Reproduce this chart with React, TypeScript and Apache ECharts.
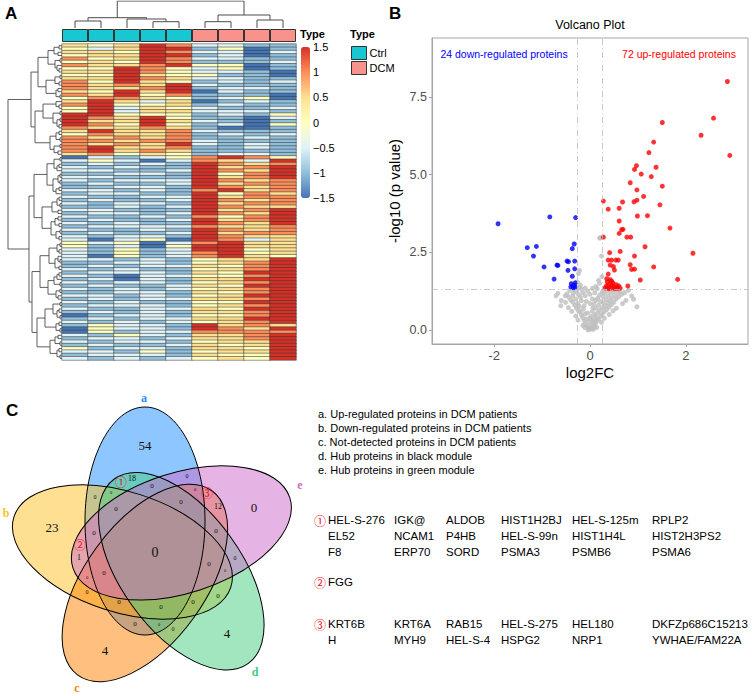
import React, { useEffect, useRef } from "react";
import * as echarts from "echarts";

// ---------- Panel A: heatmap data ----------
const heatCols = ["Ctrl1", "Ctrl2", "Ctrl3", "Ctrl4", "Ctrl5", "DCM1", "DCM2", "DCM3", "DCM4"];
const colTypes = ["Ctrl", "Ctrl", "Ctrl", "Ctrl", "Ctrl", "DCM", "DCM", "DCM", "DCM"];
const levelValues = [-1.5, -1, -0.5, 0, 0.5, 1, 1.5];
// one string per protein row, one digit per column (index into levelValues)
const heatRows = [
  "434652211", "324661301", "443652202", "344661201", "534652211", "343651112", "544563301", "336532301",
  "446532210", "336433110", "446542211", "536431212", "545462111", "544561221", "436460211", "546351110",
  "355431230", "464240121", "563341211", "362432112", "362442221", "663331213", "654631102", "644642101",
  "653631203", "544541001", "464452111", "354451212", "545451121", "554552111", "545462121", "564451121",
  "564541111", "453431221",
  "021235653", "232025426", "121216545", "212116456", "221126546", "112216356", "221116456", "212226545",
  "121126455", "112216545", "221215645", "122116354", "211226455", "121126545", "212216455", "112126544",
  "221116456", "122126546", "211215356", "121126456", "212116546", "122225445", "211216545", "121126455",
  "212216544", "202306524", "323025644", "312036644", "213126634", "213125634",
  "203125643", "221213446", "112213456", "121224356", "212113456", "122214366", "210223356", "120214466",
  "212213456", "121124366", "212123456", "112214356", "221213466", "121224456", "212113366", "122213456",
  "211224366", "121214456", "012213356", "121224466", "212123456", "132216454", "032216546", "031225555",
  "213214456", "122124456", "212213446", "121124346", "312214436", "221313446", "122214336", "212123436",
];
const colTree = "(((x,x)7,(x,(x,x)6.3)9)10.3,((x,x)6.3,(x,x)8)13)27";
const rowTreeT1 = "((((x,x)3,(x,x)4)8,((x,x)2,(x,(x,x)3)5)7)14,(((x,x)2,(x,x)3)7,((x,x)4,(x,x)2)6)16)24";
const rowTreeT2 = "(((x,(x,x)3)6,((x,x)2,((x,x)2,(x,x)3)5)9)19,(((x,x)3,(x,x)2)6,((x,x)2,(x,x)4)8)12)27";
const rowTreeB1 = "((((x,x)2,((x,x)3,x)5)8,(((x,x)2,(x,x)2)4,((x,x)3,x)6)9)15,((((x,x)3,(x,x)2)5,(x,x)4)10,(((x,x)4,(x,x)3)7,((x,x)2,(x,x)3)6)11)20)28";
const rowTreeB2a = "((((x,x)2,(x,x)3)5,((x,(x,x)2)4,(x,x)3)7)13,((((x,x)3,x)5,(x,x)2)8,((x,x)2,(x,x)4)6)14)22";
const rowTreeB2b = "((((x,x)2,((x,x)3,(x,x)2)5)9,((x,x)3,(x,x)2)6)17,(((x,x)4,(x,x)2)7,((x,x)3,(x,x)2)5)12)25";
const rowTree = "((" + rowTreeT1 + "," + rowTreeT2 + ")31,(" + rowTreeB1 + ",(" + rowTreeB2a + "," + rowTreeB2b + ")30)33)54";
const colorbarColors = ["#4575B4", "#91BFDB", "#E0F3F8", "#FFFFBF", "#FEE090", "#FC8D59", "#D73027"];

// ---------- Panel B: volcano data (log2FC, -log10 p) ----------
const downPts: number[][] = [
  [-1.92, 3.42], [-0.84, 3.64], [-0.3, 3.62], [-1.31, 2.65], [-1.12, 2.69], [-1.18, 2.38], [-0.96, 2.03], [-0.69, 2.09],
  [-0.67, 2.08], [-0.75, 1.64], [-0.48, 2.22], [-0.45, 2.2], [-0.32, 2.22], [-0.33, 2.77], [-0.37, 2.62], [-0.46, 1.92],
  [-0.32, 1.97], [-0.37, 1.73], [-0.39, 1.49], [-0.31, 1.52], [-0.4, 1.39], [-0.31, 1.38], [-0.35, 1.36], [-0.33, 1.44],
];
const upPts: number[][] = [
  [2.87, 8.0], [2.58, 6.82], [2.32, 6.27], [2.92, 5.62], [1.51, 6.68], [1.33, 6.05], [1.23, 5.71], [0.97, 5.29],
  [0.93, 5.17], [1.07, 5.02], [1.38, 5.24], [1.28, 4.94], [0.84, 4.74], [1.51, 4.63], [0.98, 4.51], [1.12, 4.3],
  [0.92, 4.13], [0.98, 4.18], [0.68, 4.12], [0.28, 4.15], [0.38, 3.89], [0.61, 3.92], [1.46, 4.03], [0.99, 3.67],
  [1.2, 3.68], [0.61, 3.51], [0.69, 3.24], [1.67, 3.28],
  [0.28, 2.99], [0.61, 3.11], [0.66, 3.23], [0.77, 2.99], [0.85, 2.99], [1.15, 2.68], [2.15, 2.47], [1.83, 1.63],
  [1.33, 2.03], [1.05, 1.61], [0.93, 2.38], [0.84, 2.1], [0.93, 1.96], [0.87, 1.95], [0.79, 1.42], [0.41, 2.49],
  [0.63, 2.53], [0.38, 2.25], [0.45, 2.25], [0.54, 2.25], [0.59, 2.25], [0.42, 2.09], [0.49, 2.04], [0.51, 1.93],
  [0.38, 1.8],
  [0.31, 1.35], [0.34, 1.42], [0.36, 1.55], [0.38, 1.38], [0.4, 1.48], [0.42, 1.62], [0.44, 1.35], [0.46, 1.44],
  [0.48, 1.52], [0.5, 1.38], [0.52, 1.33], [0.55, 1.46], [0.57, 1.37], [0.6, 1.42], [0.63, 1.35], [0.35, 1.65],
  [0.45, 1.58], [0.58, 1.34], [0.39, 1.33],
];
const nsPts: number[][] = [
  [0, 0.02], [0.03, 0.05], [-0.03, 0.06], [0.06, 0.1], [-0.06, 0.12], [0.02, 0.15], [0.09, 0.18], [-0.09, 0.2],
  [0.12, 0.22], [-0.02, 0.25], [0.05, 0.28], [-0.12, 0.3], [0.15, 0.3], [0.08, 0.33], [-0.07, 0.35], [0.18, 0.36],
  [-0.15, 0.4], [0.12, 0.42], [0.02, 0.44], [0.22, 0.45], [-0.18, 0.48], [0.1, 0.5], [-0.1, 0.52], [0.26, 0.52],
  [0.16, 0.55], [-0.2, 0.58], [0.3, 0.6], [0.05, 0.6], [-0.24, 0.62], [0.2, 0.64], [0.35, 0.66], [-0.14, 0.67],
  [0.12, 0.7], [-0.28, 0.7], [0.26, 0.72], [0.4, 0.74], [-0.22, 0.76], [0.32, 0.78], [0.18, 0.8], [-0.32, 0.8],
  [0.45, 0.82], [0.08, 0.84], [-0.26, 0.85], [0.38, 0.86], [0.28, 0.88], [-0.36, 0.9], [0.5, 0.9], [0.22, 0.92],
  [-0.18, 0.94], [0.42, 0.95], [-0.4, 0.96], [0.34, 0.98], [0.55, 1.0], [-0.3, 1.0], [0.16, 1.02], [0.46, 1.04],
  [-0.44, 1.05], [0.28, 1.06], [0.6, 1.08], [-0.36, 1.1], [0.38, 1.1], [0.52, 1.12], [-0.24, 1.14], [0.66, 1.15],
  [-0.48, 1.16], [0.3, 1.18], [0.44, 1.2], [-0.34, 1.2], [0.58, 1.22], [0.72, 1.2], [-0.28, 1.25], [0.36, 1.26],
  [0.5, 1.27], [-0.42, 1.28], [0.8, 1.28], [0.62, 1.25], [0.25, 1.22], [-0.52, 1.1], [-0.6, 0.95], [-0.67, 1.18],
  [-0.71, 1.1], [-0.61, 0.78], [-0.51, 0.89], [0.91, 0.99], [0.98, 0.75], [0.87, 1.1], [0.75, 0.95], [0.68, 0.85],
  [0.55, 0.7], [-0.45, 0.72], [-0.38, 0.6], [0.48, 0.62], [0.4, 0.5], [-0.3, 0.45], [0.3, 0.38], [-0.25, 0.32],
  [0.24, 0.25], [-0.15, 0.15], [0.14, 0.08], [-0.04, 0.0], [0.07, 0.02], [0.1, 0.12], [-0.11, 0.08],
  [-0.22, 1.92], [-0.24, 1.82], [-0.26, 1.55], [-0.2, 1.45], [-0.23, 1.38], [0.22, 2.97], [0.2, 2.96], [0.24, 2.38],
  [0.18, 1.6], [0.2, 1.5], [0.25, 1.72], [0.12, 1.4], [-0.1, 1.35], [0.05, 1.34], [0.15, 1.33], [-0.18, 1.32],
  [-0.2, 1.05], [-0.1, 1.1], [0, 1.15], [0.1, 1.2], [-0.05, 1.25], [0.05, 1.0], [-0.15, 1.2], [0.2, 1.12],
  [0.12, 0.95], [-0.08, 0.92], [0, 0.85], [-0.12, 0.78], [0.06, 0.72], [-0.05, 0.55], [0, 0.38],
];
const fcCut = 0.263;
const pCut = 1.301;
const volcanoXTicks = [-2, 0, 2];
const volcanoYTicks = [0, 2.5, 5, 7.5];
const downLabel = "24 down-regulated proteins";
const upLabel = "72 up-regulated proteins";

// ---------- Panel C: Venn ----------
const vennSets = ["a", "b", "c", "d", "e"];
const vennValues = [54, 23, 4, 4, 0, 0, 18, 0, 0, 0, 0, 0, 0, 0, 12, 0, 0, 1, 0, 0, 0, 0, 0, 0, 0, 0, 0, 0, 0, 0, 0];
const vennLegend = [
  "a. Up-regulated proteins in DCM patients",
  "b. Down-regulated proteins in DCM patients",
  "c. Not-detected proteins in DCM patients",
  "d. Hub proteins in black module",
  "e. Hub proteins in green module",
];
const geneGroup1 = [
  ["HEL-S-276", "IGK@", "ALDOB", "HIST1H2BJ", "HEL-S-125m", "RPLP2"],
  ["EL52", "NCAM1", "P4HB", "HEL-S-99n", "HIST1H4L", "HIST2H3PS2"],
  ["F8", "ERP70", "SORD", "PSMA3", "PSMB6", "PSMA6"],
];
const geneGroup2 = [["FGG"]];
const geneGroup3 = [
  ["KRT6B", "KRT6A", "RAB15", "HEL-S-275", "HEL180", "DKFZp686C15213"],
  ["H", "MYH9", "HEL-S-4", "HSPG2", "NRP1", "YWHAE/FAM22A"],
];

// ---------- layout (positions / styles) ----------
const vennNumPos: number[][] = [
  [145, 445, 13], [52, 527, 13], [105, 650, 13], [227, 633, 13], [254, 507, 13], [155, 552, 14],
  [132, 478, 8], [187, 476, 6], [152, 486, 7], [95, 497, 6], [111, 492, 4.5], [116, 509, 7], [181, 502, 7],
  [195, 489, 4.5], [218, 506, 8], [94, 533, 7], [216, 531, 7], [79, 557, 8], [235, 558, 6], [209, 564, 7],
  [104, 573, 7], [87, 577, 4.5], [225, 570, 4.5], [87, 592, 6], [119, 602, 7], [161, 607, 7], [193, 602, 7],
  [218, 596, 7], [135, 624, 7], [159, 624, 4.5], [173, 629, 6],
];
const vennStep: Record<string, number> = { a: 0, e: 1, d: 2, c: 3, b: 4 };
const vennFill: Record<string, string> = {
  a: "rgba(30,144,255,0.5)", b: "rgba(255,193,37,0.5)", c: "rgba(255,127,0,0.5)",
  d: "rgba(67,205,128,0.5)", e: "rgba(205,105,201,0.5)",
};
const vennLabelColor: Record<string, string> = { a: "#1E90FF", b: "#FFC125", c: "#FF7F00", d: "#43CD80", e: "#CD69C9" };
const vennLabelPos: Record<string, number[]> = { a: [144, 398], b: [6, 513], c: [77, 688], d: [255, 672], e: [300, 485] };
const vennMarks: [string, number, number][] = [["\u2460", 121, 481], ["\u2461", 80, 544], ["\u2462", 207, 492]];

type TNode = { h: number; pos: number; l?: TNode; r?: TNode };
function parseTree(s: string): TNode {
  let i = 0;
  let leaf = 0;
  const node = (): TNode => {
    if (s[i] === "x") {
      i++;
      return { h: 0, pos: leaf++ + 0.5 };
    }
    i++;
    const l = node();
    i++;
    const r = node();
    i++;
    let j = i;
    while (j < s.length && /[0-9.]/.test(s[j])) j++;
    const h = parseFloat(s.slice(i, j));
    i = j;
    return { h, pos: (l.pos + r.pos) / 2, l, r };
  };
  return node();
}
function treeLines(t: TNode, horizontal: boolean, out: any[]) {
  if (!t.l || !t.r) return;
  const pts = [
    [t.l.pos, t.l.h], [t.l.pos, t.h], [t.r.pos, t.h], [t.r.pos, t.r.h],
  ].map((p) => (horizontal ? [p[1], p[0]] : p));
  out.push({ coords: pts });
  treeLines(t.l, horizontal, out);
  treeLines(t.r, horizontal, out);
}

const SANS = "Liberation Sans, Arial, sans-serif";
const SERIF = "Liberation Serif, Times New Roman, serif";
const CJK = "Noto Sans CJK SC, DejaVu Sans, sans-serif";

export default function App() {
  const ref = useRef<HTMLDivElement>(null);
  useEffect(() => {
    if (!ref.current) return;
    const chart = echarts.init(ref.current, undefined, { renderer: "svg" });

    const heatData: number[][] = [];
    heatRows.forEach((s, r) => s.split("").forEach((ch, c) => heatData.push([c, r, levelValues[Number(ch)]])));
    const rowNames = heatRows.map((_, i) => "P" + (i + 1));

    const colSegs: any[] = [];
    treeLines(parseTree(colTree), false, colSegs);
    const rowSegs: any[] = [];
    treeLines(parseTree(rowTree), true, rowSegs);

    const hidden = { show: false };
    const graphics: any[] = [];
    const txt = (text: string, x: number, y: number, o: any = {}) =>
      graphics.push({
        type: "text", x, y, silent: true, z: 10,
        style: { text, fontSize: 11, fontFamily: SANS, fill: "#000", align: "left", verticalAlign: "middle", ...o },
      });

    // panel letters
    txt("A", 5, 13, { fontSize: 17, fontWeight: "bold" });
    txt("B", 389, 13, { fontSize: 17, fontWeight: "bold" });
    txt("C", 6, 410, { fontSize: 17, fontWeight: "bold" });
    // heatmap legends
    txt("Type", 300, 34, { fontWeight: "bold", fontSize: 11 });
    txt("Type", 350, 34, { fontWeight: "bold", fontSize: 11 });
    // volcano
    txt("Volcano Plot", 590, 25, { fontSize: 12.5, align: "center" });
    txt(downLabel, 504, 54, { fontSize: 10.5, fill: "#0000FF", align: "center" });
    txt(upLabel, 679, 54, { fontSize: 10.5, fill: "#FF0000", align: "center" });

    // Venn ellipses
    const G = [155, 552];
    const off = [-10, -31];
    const ellipse = (name: string, fill: boolean) => {
      const phi = (vennStep[name] * 72 * Math.PI) / 180;
      const cx = G[0] + off[0] * Math.cos(phi) - off[1] * Math.sin(phi);
      const cy = G[1] + off[0] * Math.sin(phi) + off[1] * Math.cos(phi);
      return {
        type: "ellipse", x: cx, y: cy, rotation: -phi, silent: true, z: fill ? 1 : 2,
        shape: { cx: 0, cy: 0, rx: 60, ry: 114 },
        style: fill ? { fill: vennFill[name], stroke: "none" } : { fill: "none", stroke: "#000", lineWidth: 1 },
      };
    };
    vennSets.forEach((n) => graphics.push(ellipse(n, true)));
    vennSets.forEach((n) => graphics.push(ellipse(n, false)));
    vennSets.forEach((n) =>
      txt(n, vennLabelPos[n][0], vennLabelPos[n][1], {
        fontFamily: SERIF, fontWeight: "bold", fontSize: 12, fill: vennLabelColor[n], align: "center",
      })
    );
    vennValues.forEach((v, i) =>
      txt(String(v), vennNumPos[i][0], vennNumPos[i][1], {
        fontFamily: SERIF, fontSize: vennNumPos[i][2], fill: "#111", align: "center",
      })
    );
    vennMarks.forEach((m) => txt(m[0], m[1], m[2], { fontFamily: CJK, fontSize: 12, fill: "#E8161E", align: "center" }));

    // right side legend & gene lists
    vennLegend.forEach((t, i) => txt(t, 318, 414 + i * 13.9, { fontSize: 11 }));
    const geneX = [328, 394, 446, 501, 572, 652];
    const drawGroup = (rows: string[][], y0: number, mark: string) => {
      txt(mark, 320, y0, { fontFamily: CJK, fontSize: 12, fill: "#E8161E", align: "center" });
      rows.forEach((row, ri) => row.forEach((g, ci) => txt(g, geneX[ci], y0 + ri * 16, { fontSize: 11.5 })));
    };
    drawGroup(geneGroup1, 520, "\u2460");
    drawGroup(geneGroup2, 582, "\u2461");
    drawGroup(geneGroup3, 624, "\u2462");

    const option: any = {
      animation: false,
      backgroundColor: "#fff",
      grid: [
        { left: 62, top: 44, width: 234, height: 316 },
        { left: 62, top: 1, width: 234, height: 27 },
        { left: 8, top: 44, width: 54, height: 316 },
        { left: 62, top: 29, width: 234, height: 13 },
        { left: 301, top: 47, width: 9, height: 151 },
        { left: 432, top: 38, width: 316, height: 306, show: true, borderColor: "#a6a6a6", borderWidth: 1 },
      ],
      xAxis: [
        { gridIndex: 0, type: "category", data: heatCols, show: false },
        { gridIndex: 1, type: "value", min: 0, max: 9, show: false },
        { gridIndex: 2, type: "value", min: 0, max: 54, inverse: true, show: false },
        { gridIndex: 3, type: "category", data: heatCols, show: false },
        { gridIndex: 4, type: "value", show: false },
        {
          gridIndex: 5, type: "value", min: -3.3, max: 3.3, position: "bottom",
          name: "log2FC", nameLocation: "middle", nameGap: 21,
          nameTextStyle: { fontSize: 15, color: "#000", fontFamily: SANS },
          axisLine: { show: true, onZero: false, lineStyle: { color: "#a6a6a6", width: 1 } },
          axisTick: { show: true, length: 3, customValues: volcanoXTicks, lineStyle: { color: "#a6a6a6" } },
          axisLabel: { customValues: volcanoXTicks, fontSize: 13, color: "#4d4d4d", fontFamily: SANS, margin: 5 },
          splitLine: hidden,
        },
      ],
      yAxis: [
        { gridIndex: 0, type: "category", data: rowNames, inverse: true, show: false },
        { gridIndex: 1, type: "value", min: 0, max: 27, show: false },
        { gridIndex: 2, type: "value", min: 0, max: 96, inverse: true, show: false },
        { gridIndex: 3, type: "value", min: 0, max: 1, show: false },
        {
          gridIndex: 4, type: "value", min: -1.5, max: 1.5, interval: 0.5, position: "right",
          axisLine: hidden, axisTick: hidden, splitLine: hidden,
          axisLabel: {
            fontSize: 11, color: "#000", fontFamily: SANS, margin: 3,
            formatter: (v: number) => (v < 0 ? "\u2212" + Math.abs(v) : String(v)),
          },
        },
        {
          gridIndex: 5, type: "value", min: -0.45, max: 9.4, position: "left",
          name: "-log10 (p value)", nameLocation: "middle", nameGap: 30,
          nameTextStyle: { fontSize: 15, color: "#000", fontFamily: SANS },
          axisLine: { show: true, onZero: false, lineStyle: { color: "#a6a6a6", width: 1 } },
          axisTick: { show: true, length: 3, customValues: volcanoYTicks, lineStyle: { color: "#a6a6a6" } },
          axisLabel: {
            customValues: volcanoYTicks, fontSize: 12.5, color: "#4d4d4d", fontFamily: SANS, margin: 5,
            formatter: (v: number) => v.toFixed(1),
          },
          splitLine: hidden,
        },
      ],
      visualMap: {
        type: "continuous", seriesIndex: 0, min: -1.5, max: 1.5, calculable: false, hoverLink: false,
        left: 301, top: 47, itemWidth: 9, itemHeight: 151, padding: 0,
        inRange: { color: colorbarColors },
      },
      legend: {
        data: ["Ctrl", "DCM"], orient: "vertical", left: 351, top: 46, itemWidth: 15, itemHeight: 13, itemGap: 1,
        icon: "rect", padding: 0, selectedMode: false,
        itemStyle: { borderColor: "#333", borderWidth: 1 },
        textStyle: { fontSize: 11, color: "#000", fontFamily: SANS, padding: [0, 0, 0, -2] },
      },
      series: [
        {
          type: "heatmap", xAxisIndex: 0, yAxisIndex: 0, data: heatData, silent: true,
          itemStyle: { borderColor: "#333", borderWidth: 0.5 },
        },
        {
          type: "lines", coordinateSystem: "cartesian2d", xAxisIndex: 1, yAxisIndex: 1, polyline: true,
          data: colSegs, silent: true, lineStyle: { color: "#4d4d4d", width: 1, opacity: 1 },
        },
        {
          type: "lines", coordinateSystem: "cartesian2d", xAxisIndex: 2, yAxisIndex: 2, polyline: true,
          data: rowSegs, silent: true, lineStyle: { color: "#4d4d4d", width: 0.9, opacity: 1 },
        },
        {
          name: "Ctrl", type: "bar", xAxisIndex: 3, yAxisIndex: 3, barGap: "-100%", barCategoryGap: "0%",
          data: colTypes.map((t) => (t === "Ctrl" ? 1 : "-")), silent: true,
          itemStyle: { color: "#17C7D2", borderColor: "#333", borderWidth: 1 },
        },
        {
          name: "DCM", type: "bar", xAxisIndex: 3, yAxisIndex: 3, barGap: "-100%", barCategoryGap: "0%",
          data: colTypes.map((t) => (t === "DCM" ? 1 : "-")), silent: true,
          itemStyle: { color: "#F9928A", borderColor: "#333", borderWidth: 1 },
        },
        {
          name: "NS", type: "scatter", xAxisIndex: 5, yAxisIndex: 5, data: nsPts, symbolSize: 5, silent: true,
          itemStyle: { color: "#BEBEBE" },
          markLine: {
            silent: true, symbol: "none", label: { show: false },
            lineStyle: { color: "#bdbdbd", width: 0.8, type: [6, 3, 1, 3] },
            data: [{ xAxis: -fcCut }, { xAxis: fcCut }, { yAxis: pCut }],
          },
        },
        {
          name: "Down", type: "scatter", xAxisIndex: 5, yAxisIndex: 5, data: downPts, symbolSize: 5, silent: true,
          itemStyle: { color: "#0000FF" },
        },
        {
          name: "Up", type: "scatter", xAxisIndex: 5, yAxisIndex: 5, data: upPts, symbolSize: 5, silent: true,
          itemStyle: { color: "#FF0000" },
        },
      ],
      graphic: graphics,
    };
    chart.setOption(option);
    return () => chart.dispose();
  }, []);
  return (
    <div
      ref={ref}
      style={{ position: "fixed", left: 0, top: 0, width: 752, height: 696, background: "#fff" }}
    />
  );
}
